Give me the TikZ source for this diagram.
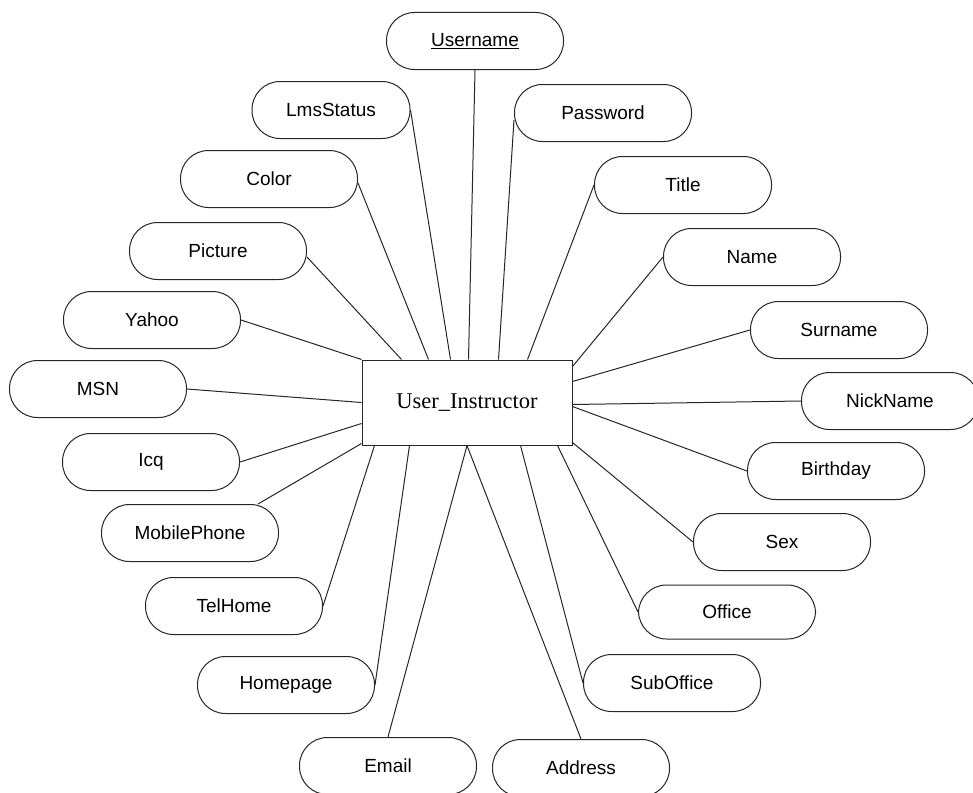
\documentclass[tikz,border=0pt]{standalone}
\usepackage{fontspec}
\setmainfont{Liberation Serif}
\newfontfamily\arialf{Liberation Sans}
\begin{document}
\begin{tikzpicture}[x=1pt,y=-1pt,
  attr/.style={draw=black!85, line width=1pt, rectangle, rounded corners=28pt,
    minimum width=177pt, minimum height=57pt, inner sep=0pt,
    font=\arialf\fontsize{19}{22}\selectfont},
  ent/.style={draw=black!85, line width=1pt, rectangle, minimum width=210pt,
    minimum height=85pt, inner sep=0pt, font=\fontsize{22.5}{26}\selectfont},
  conn/.style={draw=black!85, line width=1pt}]
\useasboundingbox (0,0) rectangle (973,792);
\node[ent] (U) at (467,402.5) {User\_Instructor};
\node[attr] (username) at (475,41) {\underline{Username}};
\node[attr, minimum width=158pt] (lms) at (331,110) {LmsStatus};
\node[attr] (pw) at (603,113) {Password};
\node[attr] (color) at (269,179) {Color};
\node[attr] (title) at (683,185) {Title};
\node[attr] (pic) at (218,251) {Picture};
\node[attr] (name) at (752,257) {Name};
\node[attr] (yahoo) at (152,320) {Yahoo};
\node[attr] (surname) at (839,330) {Surname};
\node[attr] (msn) at (98,389) {MSN};
\node[attr] (nick) at (890,401) {NickName};
\node[attr] (icq) at (151,462) {Icq};
\node[attr] (birth) at (836,471) {Birthday};
\node[attr] (mobile) at (190,533) {MobilePhone};
\node[attr] (sex) at (782,542) {Sex};
\node[attr] (tel) at (234,606) {TelHome};
\node[attr, minimum height=54pt] (office) at (727,612) {Office};
\node[attr] (home) at (286,685) {Homepage};
\node[attr] (sub) at (672,683) {SubOffice};
\node[attr] (email) at (388,766) {Email};
\node[attr] (addr) at (581,768) {Address};
% connectors
\draw[conn] (username.south) -- ([xshift=107pt]U.north west);
\draw[conn] (lms.east) -- ([xshift=89pt]U.north west);
\draw[conn] ([yshift=-4pt]color.east) -- ([xshift=67pt]U.north west);
\draw[conn] ([yshift=-6pt]pic.east) -- ([xshift=40pt]U.north west);
\draw[conn] (yahoo.east) -- (U.north west);
\draw[conn] (msn.east) -- (U.west);
\draw[conn] (icq.east) -- ([yshift=22pt]U.south west);
\draw[conn] ([xshift=-21pt]mobile.north east) -- ([yshift=2pt]U.south west);
\draw[conn] (tel.east) -- ([xshift=13pt]U.south west);
\draw[conn] (home.east) -- ([xshift=48pt]U.south west);
\draw[conn] (email.north) -- (U.south);
\draw[conn] (addr.north) -- (U.south);
\draw[conn] (sub.west) -- ([xshift=-52pt]U.south east);
\draw[conn] (office.west) -- ([xshift=-15pt]U.south east);
\draw[conn] (sex.west) -- ([yshift=3pt]U.south east);
\draw[conn] (birth.west) -- ([yshift=-47pt]U.north east);
\draw[conn] (nick.west) -- ([yshift=-45pt]U.north east);
\draw[conn] (surname.west) -- ([yshift=-22pt]U.north east);
\draw[conn] (name.west) -- ([yshift=-7pt]U.north east);
\draw[conn] (title.west) -- ([xshift=166pt]U.north west);
\draw[conn] ([yshift=-7pt]pw.west) -- ([xshift=137pt]U.north west);
\end{tikzpicture}
\end{document}
